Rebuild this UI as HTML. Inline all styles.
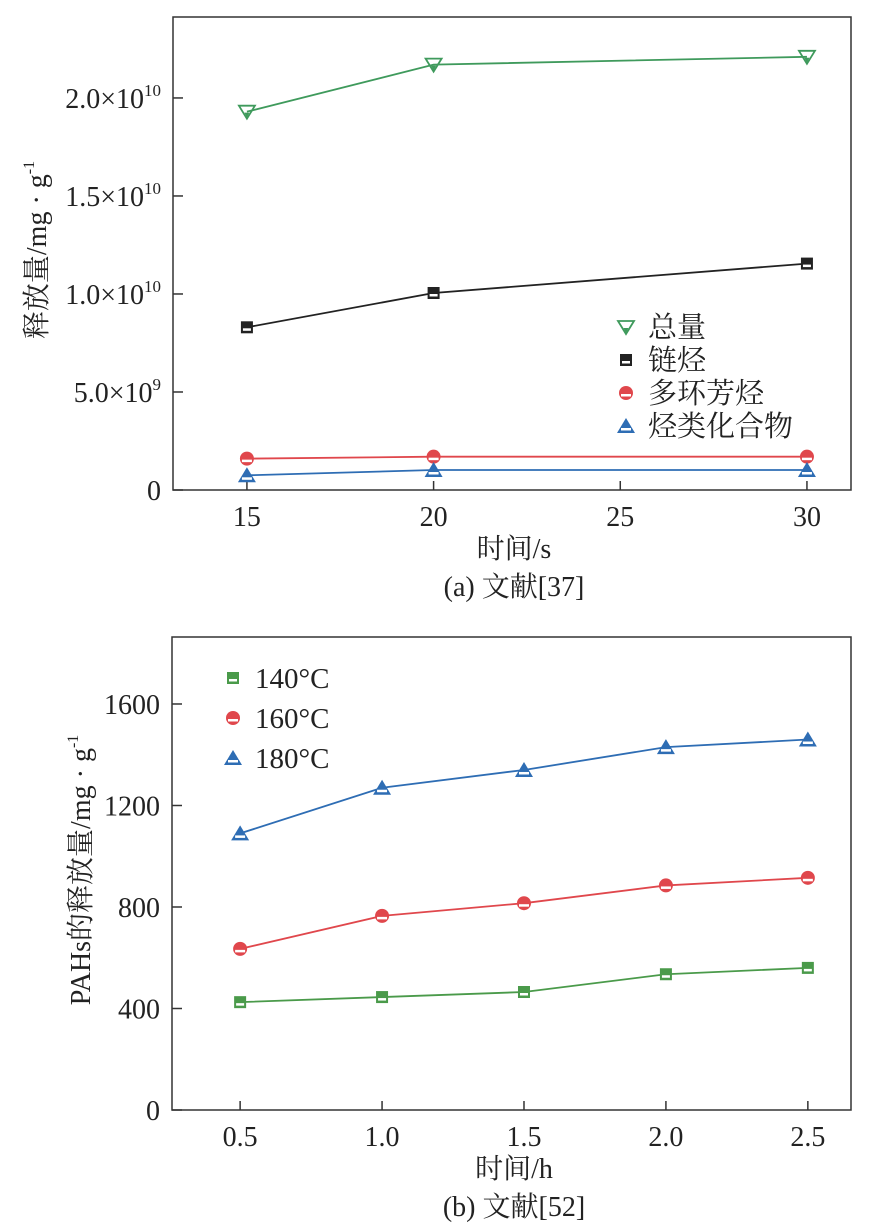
<!DOCTYPE html>
<html><head><meta charset="utf-8"><style>
html,body{margin:0;padding:0;background:#fff}
svg{display:block}
text{font-family:"Liberation Serif","Noto Serif CJK SC",serif;fill:#222}
</style></head><body>
<svg id="s" width="891" height="1229" viewBox="0 0 891 1229" xmlns="http://www.w3.org/2000/svg"></svg>
<script>
// Chart (a)
const aX = [15, 20, 30];
const aTotal = [1.93e10, 2.17e10, 2.21e10];
const aChain = [8.3e9, 1.005e10, 1.155e10];
const aPah = [1.6e9, 1.7e9, 1.7e9];
const aHydro = [0.75e9, 1.02e9, 1.02e9];
const aXTicks = [15, 20, 25, 30];
const aYTicks = [0, 5e9, 1e10, 1.5e10, 2e10];
const aYLabels = ["0", "5.0×10^9", "1.0×10^10", "1.5×10^10", "2.0×10^10"];
// Chart (b)
const bX = [0.5, 1.0, 1.5, 2.0, 2.5];
const b140 = [425, 445, 465, 535, 560];
const b160 = [635, 765, 815, 885, 915];
const b180 = [1090, 1270, 1340, 1430, 1460];
const bXTicks = [0.5, 1.0, 1.5, 2.0, 2.5];
const bYTicks = [0, 400, 800, 1200, 1600];

const NS = "http://www.w3.org/2000/svg";
const svg = document.getElementById('s');
function mk(tag, attrs, parent, txt){
  const e = document.createElementNS(NS, tag);
  for (const k in attrs) e.setAttribute(k, attrs[k]);
  if (txt !== undefined) e.textContent = txt;
  (parent || svg).appendChild(e);
  return e;
}
const GREEN = "#3f9a5c", BLACK = "#222", RED = "#e0474c", BLUE = "#2e6db4", GREEN2 = "#4a9a4a";

function marker(g, type, x, y, c){
  if (type === 'sq') {
    mk('rect', {x:x-6, y:y-6, width:12, height:12, fill:c}, g);
    mk('rect', {x:x-4, y:y+1, width:8, height:2.5, fill:'#fff'}, g);
  } else if (type === 'ci') {
    mk('circle', {cx:x, cy:y, r:7, fill:c}, g);
    mk('rect', {x:x-5, y:y+1, width:10, height:2.5, fill:'#fff'}, g);
  } else if (type === 'up') {
    mk('polygon', {points:`${x},${y-8} ${x+9},${y+7} ${x-9},${y+7}`, fill:c}, g);
    mk('rect', {x:x-5, y:y+2, width:10, height:2.5, fill:'#fff'}, g);
  } else if (type === 'dn') {
    mk('polygon', {points:`${x-8},${y-6} ${x+8},${y-6} ${x},${y+7}`, fill:'none', stroke:c, 'stroke-width':1.8}, g);
    mk('polygon', {points:`${x-2.5},${y+1} ${x+2.5},${y+1} ${x},${y+6}`, fill:c}, g);
  }
}

function chart(cfg){
  const g = mk('g', {});
  
  
  const sx = v => cfg.x0 + (v - cfg.xmin) / (cfg.xmax - cfg.xmin) * (cfg.x1 - cfg.x0);
  const sy = v => cfg.y1 - (v - cfg.ymin) / (cfg.ymax - cfg.ymin) * (cfg.y1 - cfg.y0);
  const frame = mk('rect', {x:cfg.x0, y:cfg.y0, width:cfg.x1-cfg.x0, height:cfg.y1-cfg.y0, fill:'none', stroke:'#333', 'stroke-width':1.5}, g);
  
  
  cfg.xTicks.forEach((t, i) => {
    const x = sx(t);
    mk('line', {x1:x, x2:x, y1:cfg.y1, y2:cfg.y1-9, stroke:'#333', 'stroke-width':1.5}, g);
    const tl = mk('text', {x:x, y:cfg.y1+36, 'font-size':28, 'text-anchor':'middle'}, g, cfg.xFmt(t));
    
    
  });
  cfg.yTicks.forEach((t, i) => {
    const y = sy(t);
    mk('line', {x1:cfg.x0, x2:cfg.x0+10, y1:y, y2:y, stroke:'#333', 'stroke-width':1.5}, g);
    const lab = cfg.yLabels ? cfg.yLabels[i] : String(t);
    const tl = mk('text', {x:cfg.x0-12, y:y+10, 'font-size':28, 'text-anchor':'end'}, g);
    
    
    const parts = lab.split('^');
    mk('tspan', {}, tl, parts[0]);
    if (parts[1]) mk('tspan', {dy:-12, 'font-size':17}, tl, parts[1]);
  });
  cfg.series.forEach(s => {
    const sg = mk('g', {}, g);
    
    
    const pts = s.vals.map((v, i) => sx(cfg.xs[i]) + ',' + sy(v)).join(' ');
    mk('polyline', {points:pts, fill:'none', stroke:s.c, 'stroke-width':1.8}, sg);
    s.vals.forEach((v, i) => marker(sg, s.m, sx(cfg.xs[i]), sy(v), s.c));
  });
  cfg.series.forEach((s, i) => {
    const lg = mk('g', {}, g);
    
    
    const y = cfg.legY + i * cfg.legDy;
    marker(lg, s.m, cfg.legX, y, s.c);
    mk('text', {x:cfg.legX+22, y:y+10, 'font-size':29}, lg, s.label);
  });
  const xt = mk('text', {x:cfg.xtX, y:cfg.y1+68, 'font-size':28, 'text-anchor':'middle'}, g, cfg.xTitle);
  
  
  const cap = mk('text', {x:cfg.xtX, y:cfg.y1+106, 'font-size':28, 'text-anchor':'middle'}, g, cfg.caption);
  
  
  const yt = mk('text', {x:0, y:0, 'font-size':28, 'text-anchor':'middle', transform:`translate(${cfg.ytX},${cfg.ytY}) rotate(-90)`}, g);
  
  
  mk('tspan', {}, yt, cfg.yTitle);
  mk('tspan', {dy:-12, 'font-size':16}, yt, '-1');
}

chart({name:'chart-a', x0:173, x1:851, y0:17, y1:490, xmin:13.02, xmax:31.18, ymin:0, ymax:2.413e10,
  xs:aX, xTicks:aXTicks, yTicks:aYTicks, yLabels:aYLabels, xFmt:t=>String(t),
  series:[
    {name:'series-total', vals:aTotal, c:GREEN, m:'dn', label:'总量'},
    {name:'series-chain', vals:aChain, c:BLACK, m:'sq', label:'链烃'},
    {name:'series-pah', vals:aPah, c:RED, m:'ci', label:'多环芳烃'},
    {name:'series-hydro', vals:aHydro, c:BLUE, m:'up', label:'烃类化合物'}],
  legX:626, legY:327, legDy:33,
  xTitle:'时间/s', caption:'(a) 文献[37]', xtX:514,
  yTitle:'释放量/mg · g', ytX:46, ytY:250});

chart({name:'chart-b', x0:172, x1:851, y0:637, y1:1110, xmin:0.26, xmax:2.652, ymin:0, ymax:1864,
  xs:bX, xTicks:bXTicks, yTicks:bYTicks, xFmt:t=>t.toFixed(1),
  series:[
    {name:'series-140c', vals:b140, c:GREEN2, m:'sq', label:'140°C'},
    {name:'series-160c', vals:b160, c:RED, m:'ci', label:'160°C'},
    {name:'series-180c', vals:b180, c:BLUE, m:'up', label:'180°C'}],
  legX:233, legY:678, legDy:40,
  xTitle:'时间/h', caption:'(b) 文献[52]', xtX:514,
  yTitle:'PAHs的释放量/mg · g', ytX:90, ytY:870});
</script>
</body></html>
